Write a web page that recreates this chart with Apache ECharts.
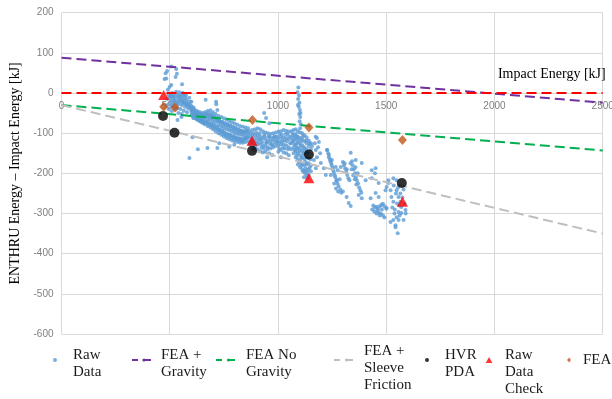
<!DOCTYPE html>
<html>
<head>
<meta charset="utf-8">
<script src="https://cdn.jsdelivr.net/npm/echarts@6/dist/echarts.min.js"></script>
<style>html,body{margin:0;padding:0;background:#fff}#c{width:612px;height:399px}</style>
</head>
<body>
<div id="c"></div>
<script>
// ---- data ----
const xTicks = [0, 500, 1000, 1500, 2000, 2500];
const yTicks = [-600, -500, -400, -300, -200, -100, 0, 100, 200];

const rawData = [
 [481,49],[488,55],[508,66],[533,48],[527,40],[484,36],[507,20],[557,22],[491,8],[499,15],[476,35],[530,60],
 [495,-5],[500,-12],[505,-2],[510,-8],[515,-15],[520,-3],[525,-10],[530,-18],[535,-5],[540,-12],[545,-20],[550,-4],
 [555,-10],[560,-16],[565,-24],[570,-8],[575,-14],[580,-20],[585,-28],[590,-12],[595,-22],[600,-32],[505,-20],[515,-25],
 [525,-28],[540,-28],[555,-30],[570,-34],[585,-38],[600,-42],[610,-36],[488,-15],[545,2],[560,0],[530,3],[518,-35],
 [535,-38],[550,-40],[565,-44],[580,-48],[498,-28],[512,0],[562,-6],[575,-5],
 [480,-30],[495,-40],[510,-45],[540,-50],[555,-52],
 [520,-20],[535,-25],[548,-15],[560,-25],[572,-28],[583,-32],[592,-36],[503,-8],[517,-10],[543,-8],[553,-22],[567,-18],
 [578,-26],[590,-28],[508,-32],[528,-40],
 [536,-67],[554,-60],[605,-110],[591,-162],[630,-140],[674,-137],[720,-137],[729,-125],[775,-134],[798,-129],
 [600,-22],[666,-17],[714,-22],[715,-28],[720,-42],
 [600,-35],[600,-45],[600,-55],[612,-40],[612,-52],[612,-62],[625,-44],[625,-56],[625,-66],[638,-47],[638,-60],[638,-70],
 [650,-50],[650,-63],[650,-74],[662,-48],[662,-62],[662,-78],[675,-45],[675,-64],[675,-82],[688,-43],[688,-66],[688,-86],
 [700,-48],[700,-70],[700,-90],[712,-52],[712,-74],[712,-95],[725,-57],[725,-80],[725,-100],[738,-60],[738,-84],[738,-104],
 [750,-63],[750,-88],[750,-108],[762,-66],[762,-90],[762,-112],[775,-70],[775,-93],[775,-115],[788,-73],[788,-96],[788,-118],
 [800,-76],[800,-100],[800,-120],[812,-79],[812,-102],[812,-122],[825,-82],[825,-104],[825,-124],[838,-84],[838,-105],[838,-124],
 [850,-86],[850,-105],[850,-122],[862,-88],[862,-104],[862,-120],
 [606,-42],[606,-58],[619,-48],[619,-60],[631,-50],[631,-64],[644,-54],[644,-68],[656,-55],[656,-70],[669,-54],[669,-72],
 [681,-55],[681,-76],[694,-56],[694,-78],[706,-60],[706,-82],[719,-64],[719,-88],[731,-70],[731,-92],[744,-72],[744,-96],
 [756,-76],[756,-100],[769,-80],[769,-104],[781,-82],[781,-106],[794,-86],[794,-108],[806,-88],[806,-112],[819,-90],[819,-114],
 [831,-94],[831,-115],[844,-95],[844,-114],[856,-96],[856,-112],
 [603,-40],[603,-50],[609,-47],[609,-62],[615,-45],[615,-56],[622,-52],[622,-64],[628,-50],[628,-62],[634,-55],[634,-68],
 [641,-52],[641,-66],[647,-58],[647,-72],[653,-56],[653,-68],[659,-60],[659,-75],[665,-52],[665,-70],[672,-58],[672,-76],
 [678,-50],[678,-70],[684,-60],[684,-80],[691,-52],[691,-76],[697,-62],[697,-84],[703,-58],[703,-80],[709,-66],[709,-88],
 [716,-62],[716,-84],[722,-70],[722,-92],[728,-68],[728,-90],[734,-76],[734,-98],[741,-72],[741,-94],[747,-80],[747,-102],
 [753,-75],[753,-98],[759,-82],[759,-106],[766,-78],[766,-102],[772,-86],[772,-110],[778,-80],[778,-104],[784,-90],[784,-112],
 [791,-84],[791,-108],[797,-92],[797,-114],[803,-88],[803,-110],[809,-95],[809,-116],[816,-92],[816,-112],[822,-98],[822,-118],
 [828,-94],[828,-114],[834,-100],[834,-120],[841,-96],[841,-116],[847,-98],[847,-114],[853,-94],[853,-112],[859,-96],[859,-110],
 [870,-95],[870,-110],[870,-128],[882,-92],[882,-108],[882,-125],[882,-140],[894,-90],[894,-105],[894,-122],[894,-138],
 [906,-88],[906,-105],[906,-122],[906,-140],[918,-90],[918,-108],[918,-125],[918,-145],[930,-95],[930,-112],[930,-130],[930,-148],
 [942,-98],[942,-115],[942,-132],[942,-146],[954,-100],[954,-118],[954,-135],[966,-102],[966,-120],[966,-138],
 [978,-100],[978,-118],[978,-135],[990,-98],[990,-115],[990,-132],[1002,-96],[1002,-112],[1002,-130],[1002,-146],
 [1014,-95],[1014,-112],[1014,-128],[1014,-142],[1026,-92],[1026,-110],[1026,-128],[1026,-148],
 [1038,-94],[1038,-112],[1038,-130],[1038,-150],[1050,-96],[1050,-115],[1050,-135],[1050,-155],
 [876,-118],[888,-132],[900,-98],[912,-115],[924,-135],[936,-104],[948,-124],[960,-110],[972,-128],[984,-108],[996,-124],
 [1008,-104],[1020,-120],[1032,-138],[1044,-102],[1056,-125],
 [873,-102],[879,-120],[885,-100],[891,-115],[897,-130],[903,-112],[909,-128],[915,-100],[921,-116],[927,-122],[933,-138],
 [939,-108],[945,-124],[951,-140],[957,-108],[963,-126],[969,-112],[975,-130],[981,-110],[987,-124],[993,-108],[999,-120],
 [1005,-138],[1011,-122],[1017,-104],[1023,-136],[1029,-118],[1035,-102],[1041,-120],[1047,-140],[1053,-108],
 [936,-50],[945,-62],[960,-75],[973,-154],[959,-150],[1014,-160],[950,-160],
 [1094,14],[1090,2],[1097,-6],[1093,-15],[1099,-24],[1096,-34],[1101,-42],[1098,-52],[1103,-60],[1100,-70],[1105,-78],
 [1102,-88],[1092,-30],[1104,-50],
 [1062,-95],[1062,-110],[1062,-125],[1062,-140],[1072,-92],[1072,-105],[1072,-120],[1072,-135],[1072,-150],
 [1082,-90],[1082,-102],[1082,-115],[1082,-130],[1082,-145],[1082,-160],
 [1092,-95],[1092,-108],[1092,-122],[1092,-136],[1092,-150],[1092,-165],[1092,-178],
 [1102,-98],[1102,-112],[1102,-126],[1102,-140],[1102,-155],[1102,-170],[1102,-185],
 [1112,-100],[1112,-115],[1112,-130],[1112,-145],[1112,-160],[1112,-175],[1112,-190],
 [1122,-105],[1122,-120],[1122,-135],[1122,-150],[1122,-165],[1122,-180],[1122,-195],
 [1132,-110],[1132,-125],[1132,-140],[1132,-160],[1132,-178],[1132,-192],[1132,-205],
 [1142,-118],[1142,-132],[1142,-175],[1142,-190],[1142,-205],[1152,-125],[1152,-140],[1152,-180],[1152,-195],
 [1067,-118],[1077,-128],[1087,-138],[1097,-172],[1107,-120],[1117,-152],[1127,-188],[1137,-198],[1147,-185],[1157,-132],
 [1120,-210],[1135,-212],[1087,-155],[1078,-142],
 [1068,-102],[1075,-112],[1085,-108],[1088,-125],[1095,-115],[1098,-145],[1105,-132],[1108,-162],[1115,-108],[1118,-138],
 [1125,-145],[1128,-172],[1130,-118],[1138,-150],[1145,-125],[1150,-165],[1108,-180],[1115,-195],[1125,-200],[1140,-162],
 [1174,-109],[1180,-112],[1189,-122],[1175,-142],[1198,-174],[1175,-187],[1212,-187],[1166,-167],[1226,-142],[1235,-154],
 [1249,-167],[1267,-184],[1272,-217],[1221,-204],[1244,-204],[1185,-135],[1195,-150],[1170,-125],[1180,-160],
 [1228,-142],[1235,-160],[1242,-170],[1248,-180],[1255,-192],[1262,-205],[1270,-218],[1280,-232],[1288,-240],[1232,-150],
 [1240,-165],[1246,-175],[1252,-186],[1258,-198],[1265,-210],[1275,-225],[1260,-225],[1268,-238],[1278,-245],[1292,-248],
 [1300,-245],[1285,-215],
 [1300,-172],[1305,-180],[1310,-188],[1315,-196],[1320,-204],[1325,-212],[1330,-217],[1308,-175],[1318,-190],[1290,-184],[1276,-192],
 [1335,-175],[1345,-180],[1350,-190],[1355,-200],[1360,-210],[1365,-218],[1370,-225],[1375,-235],[1380,-242],[1385,-248],
 [1340,-190],[1348,-205],[1355,-215],[1362,-228],[1342,-170],[1358,-185],[1368,-200],
 [1405,-217],[1433,-192],[1451,-187],[1317,-259],[1327,-274],[1336,-281],[1373,-254],[1387,-262],[1428,-262],[1336,-149],
 [1359,-167],[1387,-174],[1448,-200],[1433,-212],[1465,-224],
 [1440,-280],[1448,-285],[1455,-283],[1462,-288],[1470,-282],[1478,-278],[1485,-276],[1445,-295],[1455,-300],[1465,-298],
 [1475,-300],[1485,-305],[1492,-310],[1460,-292],[1480,-290],[1492,-282],[1500,-288],[1435,-290],[1470,-305],
 [1533,-212],[1548,-217],[1510,-224],[1520,-242],[1524,-259],[1533,-271],[1548,-242],[1557,-259],[1566,-271],[1570,-284],
 [1557,-296],[1548,-309],[1543,-329],[1553,-349],[1533,-316],[1570,-299],[1580,-316],[1589,-291],[1520,-321],[1543,-334],
 [1557,-316],[1535,-230],[1545,-250],[1555,-235],[1560,-280],[1550,-275],[1540,-290],[1565,-250],[1575,-260],[1585,-275],
 [1590,-300],[1580,-240],[1528,-285],[1538,-300],[1562,-305],
 [1451,-249],[1465,-259],[1497,-242],[1502,-234],[1510,-217],[1502,-286]
];
const feaGravity = [[0, 88], [2500, -24]];
const feaNoGravity = [[0, -30], [2500, -143]];
const feaSleeve = [[0, -30], [2500, -350]];
const zeroLine = [[0, 0], [2500, 0]];
const hvrPda = [[469, -57], [522, -99], [880, -144], [1143, -153], [1572, -224]];
const rawCheck = [[472, -5], [880, -119], [1143, -212], [1575, -271]];
const fea = [[472, -34], [524, -36], [882, -67], [1143, -86], [1575, -117]];

const serif = 'Liberation Serif';
const chart = echarts.init(document.getElementById('c'), null, {renderer: 'canvas'});

// layout: plot box 61.5..602.7 x 12.7..334 ; the x axis sits at y = 0
const GRID = {left: 61.5, right: 9.3, top: 12.7, bottom: 65};
const plotH = 399 - GRID.top - GRID.bottom;
const zeroOffset = -plotH * (0 - yTicks[0]) / (yTicks[yTicks.length - 1] - yTicks[0]);

const rich = {
  t: {fontFamily: serif, fontSize: 15, lineHeight: 17, color: '#1a1a1a'},
  s8: {fontSize: 1, lineHeight: 8},
  s16: {fontSize: 1, lineHeight: 16}, s24: {fontSize: 1, lineHeight: 24}
};
function lbl(lines, sp) {
  const body = lines.map(function (l) { return '{t|' + l + '}'; }).join('\n');
  return sp ? '{' + sp + '| }\n' + body : body;
}
function leg(name, label, left, top, w, h, extra) {
  return Object.assign({
    data: [name], left: left, top: top, padding: 0, itemWidth: w, itemHeight: h,
    symbolKeepAspect: true, selectedMode: false,
    formatter: label,
    textStyle: {fontFamily: serif, fontSize: 15, lineHeight: 17, color: '#1a1a1a', rich: rich}
  }, extra || {});
}
const legDash = {lineStyle: {type: [6, 7], width: 2}};
const plainNum = function (v) { return String(v); };

chart.setOption({
  animation: false,
  backgroundColor: '#ffffff',
  grid: {left: GRID.left, right: GRID.right, top: GRID.top, bottom: GRID.bottom, containLabel: false, outerBoundsMode: 'none'},
  xAxis: {
    type: 'value', min: xTicks[0], max: xTicks[xTicks.length - 1], interval: 500,
    position: 'bottom', offset: zeroOffset,
    name: 'Impact Energy [kJ]', nameLocation: 'end', nameGap: 3,
    nameTextStyle: {fontFamily: serif, fontSize: 14, color: '#000', align: 'right', verticalAlign: 'bottom', padding: [0, 0, 12, 0]},
    axisLine: {show: false, onZero: false}, axisTick: {show: false},
    axisLabel: {color: '#808080', fontSize: 10, fontFamily: 'Liberation Sans', margin: 8, formatter: plainNum},
    splitLine: {lineStyle: {color: '#d9d9d9', width: 1}}
  },
  yAxis: {
    type: 'value', min: yTicks[0], max: yTicks[yTicks.length - 1], interval: 100,
    name: 'ENTHRU Energy \u2013 Impact Energy [kJ]', nameLocation: 'middle', nameGap: 38,
    nameTextStyle: {fontFamily: serif, fontSize: 14, color: '#000'},
    axisLine: {show: false, onZero: false}, axisTick: {show: false},
    axisLabel: {color: '#808080', fontSize: 10, fontFamily: 'Liberation Sans', margin: 8, formatter: plainNum},
    splitLine: {lineStyle: {color: '#d9d9d9', width: 1}}
  },
  legend: [
    leg('Raw Data', lbl(['Raw', 'Data'], 's8'), 53, 339, 26, 4),
    leg('FEA + Gravity', lbl(['FEA +', 'Gravity'], 's8'), 131, 339, 24, 4, legDash),
    leg('FEA No Gravity', lbl(['FEA No', 'Gravity'], 's8'), 215, 339, 25, 4, legDash),
    leg('FEA + Sleeve Friction', lbl(['FEA +', 'Sleeve', 'Friction'], 's16'), 333, 326.5, 25, 4, legDash),
    leg('HVR PDA', lbl(['HVR', 'PDA'], 's8'), 425, 339, 26, 4),
    leg('Raw Data Check', lbl(['Raw', 'Data', 'Check'], 's24'), 485.7, 322.5, 22, 6,
        {icon: 'path://M5,0L10,9L0,9Z'}),
    leg('FEA', lbl(['FEA'], ''), 567, 351.5, 18, 5, {icon: 'path://M4,0L8,5L4,10L0,5Z'})
  ],
  series: [
    {name: 'Raw Data', type: 'scatter', data: rawData, symbol: 'circle', symbolSize: 4,
     itemStyle: {color: '#5B9BD5'}, z: 2},
    {name: 'FEA + Gravity', type: 'line', data: feaGravity, symbol: 'none',
     itemStyle: {color: '#7030A0'}, lineStyle: {color: '#7030A0', width: 2, type: [10, 5]}, z: 3},
    {name: 'FEA No Gravity', type: 'line', data: feaNoGravity, symbol: 'none',
     itemStyle: {color: '#00B050'}, lineStyle: {color: '#00B050', width: 2, type: [10, 5]}, z: 3},
    {name: 'FEA + Sleeve Friction', type: 'line', data: feaSleeve, symbol: 'none',
     itemStyle: {color: '#BFBFBF'}, lineStyle: {color: '#BFBFBF', width: 2, type: [10, 5]}, z: 3},
    {name: 'zero', type: 'line', data: zeroLine, symbol: 'none',
     itemStyle: {color: '#FF0000'}, lineStyle: {color: '#FF0000', width: 2, type: [10, 5]}, z: 3},
    {name: 'HVR PDA', type: 'scatter', data: hvrPda, symbol: 'circle', symbolSize: 10,
     itemStyle: {color: '#000000'}, z: 4},
    {name: 'Raw Data Check', type: 'scatter', data: rawCheck, symbol: 'triangle', symbolSize: [11, 10],
     itemStyle: {color: '#FF0000'}, z: 5},
    {name: 'FEA', type: 'scatter', data: fea, symbol: 'diamond', symbolSize: [9, 10],
     itemStyle: {color: '#C0561A'}, z: 5}
  ]
});
</script>
</body>
</html>
